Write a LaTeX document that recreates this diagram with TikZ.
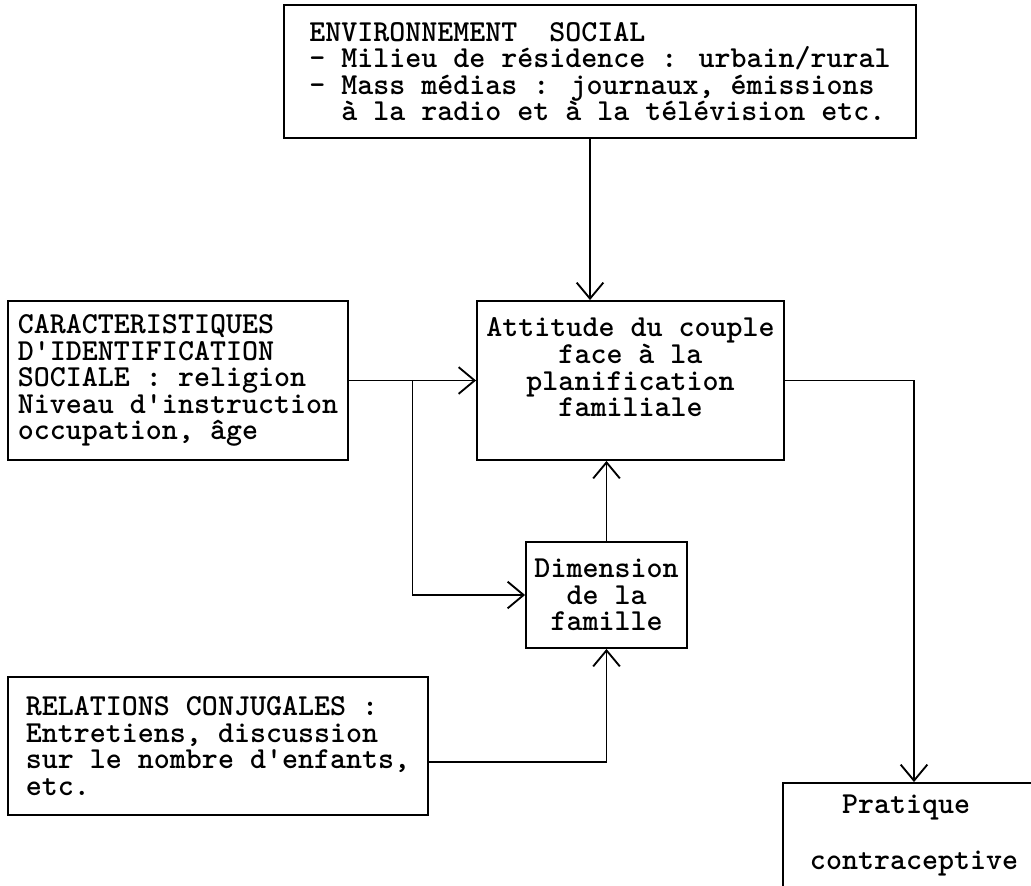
\documentclass[tikz,border=0pt]{standalone}
\usepackage{fontspec}
\usetikzlibrary{arrows.meta,calc}
\tikzset{
  box/.style={draw, line width=1.4pt, inner sep=0pt, font=\ttfamily\bfseries\fontsize{22.86pt}{19.9pt}\selectfont},
  arr/.style={line width=1.4pt, -{Straight Barb[length=12pt,width=20pt]}},
}
\begin{document}
\begin{tikzpicture}[x=0.75pt,y=0.75pt,yscale=-1,xscale=1]
\useasboundingbox (0,0) rectangle (1031,885);
%boxes
\node [box, minimum width=474pt, minimum height=99.75pt, align=left] (env) at (600,71.5)
  {ENVIRONNEMENT\ \ SOCIAL\\- Milieu de résidence : urbain/rural\\- Mass médias : journaux, émissions\\\phantom{xx}à la radio et à la télévision etc.};
\node [box, minimum width=255pt, minimum height=119.25pt, align=left] (carac) at (178,380.5)
  {CARACTERISTIQUES\\D'IDENTIFICATION\\SOCIALE : religion\\Niveau d'instruction\\occupation, âge};
\node [box, minimum width=230.25pt, minimum height=119.25pt, align=center] (attitude) at (630.5,380.5)
  {Attitude du couple\\face à la\\planification\\familiale\\\mbox{}};
\node [box, minimum width=120.75pt, minimum height=79.5pt, align=center] (dimension) at (606.5,595)
  {Dimension\\de la\\famille};
\node [box, minimum width=315pt, minimum height=103.5pt, align=left] (relations) at (218,746)
  {RELATIONS CONJUGALES :\\Entretiens, discussion\\sur le nombre d'enfants,\\etc.};
\node [box, minimum width=196.5pt, minimum height=78.75pt, align=left] (pratique) at (914,835.5)
  {\phantom{xx}Pratique\\[21.4pt]contraceptive};
%links
\coordinate (jct) at ($(carac.east)!0.5!(attitude.west)$);
\draw [arr] ([xshift=-7.5pt]env.south) -- ([xshift=-7.5pt]env.south |- attitude.north);
\draw [arr] (carac.east) -- (attitude.west);
\draw [arr] (jct) |- (dimension.west);
\draw [arr] (dimension.north) -- (dimension.north |- attitude.south);
\draw [arr] ([yshift=12pt]relations.east) -| (dimension.south);
\draw [arr] (attitude.east) -| (pratique.north);
\end{tikzpicture}
\end{document}
